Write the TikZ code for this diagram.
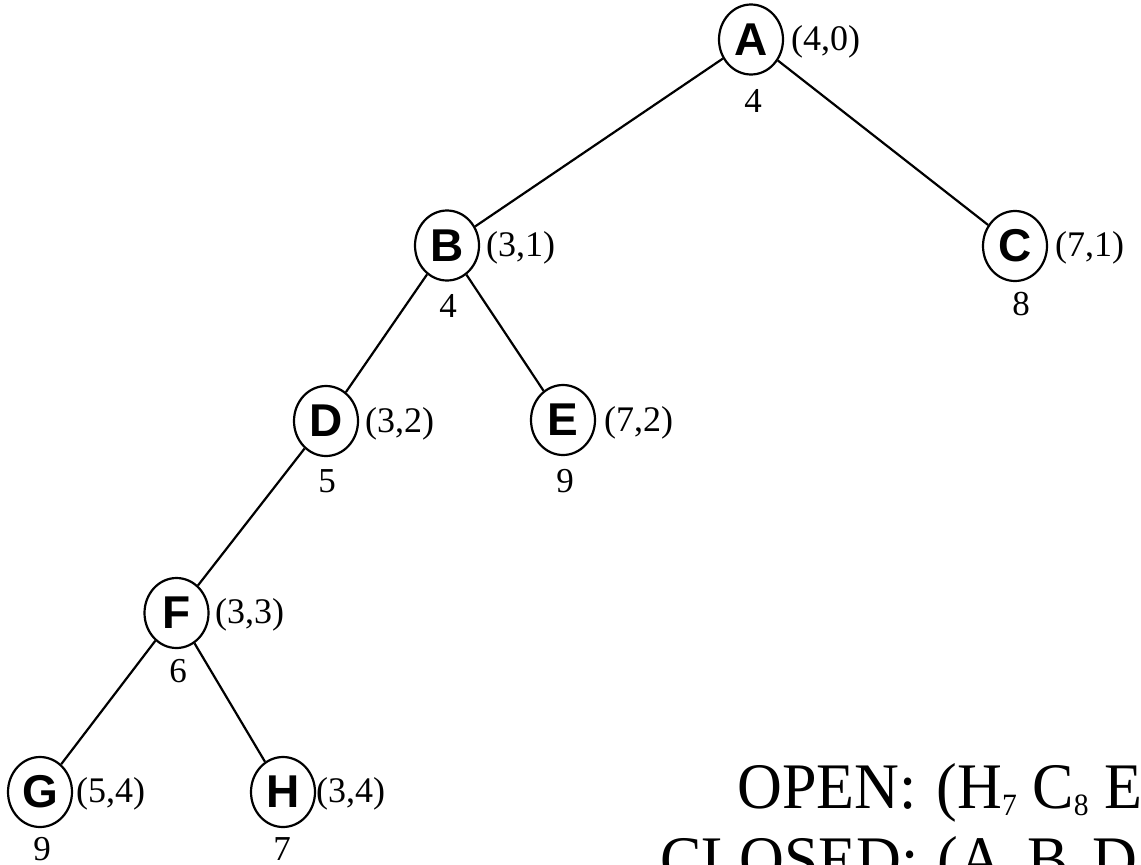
\documentclass[tikz,border=0pt]{standalone}
\usepackage{fontspec}
\setmainfont{Liberation Serif}
\newfontfamily\nodefont{Liberation Sans}
\usetikzlibrary{shapes.geometric}
\newcommand{\lowsub}[1]{\raisebox{-7pt}{\fontsize{31}{31}\selectfont #1}}
\begin{document}
\begin{tikzpicture}[x=1pt,y=-1pt,
  st/.style={ellipse, draw, line width=2.2pt, minimum width=64pt, minimum height=70pt,
    inner sep=0pt, font=\nodefont\bfseries\fontsize{46}{46}\selectfont},
  crd/.style={anchor=west, inner sep=0pt, font=\fontsize{36}{36}\selectfont},
  cost/.style={inner sep=0pt, font=\fontsize{35}{35}\selectfont},
  edgeline/.style={line width=2.2pt},
  big/.style={anchor=base west, inner sep=0pt, font=\fontsize{65}{65}\selectfont}]
\useasboundingbox (0,0) rectangle (1141,865);
\clip (0,0) rectangle (1141,865);
% nodes
\node[st] (A) at (751,39.5) {A};
\node[st] (B) at (447,245.5) {B};
\node[st] (C) at (1015,246) {C};
\node[st] (D) at (326,421) {D};
\node[st] (E) at (563,420) {E};
\node[st] (F) at (176.5,613) {F};
\node[st] (G) at (40,792) {G};
\node[st] (H) at (283,792) {H};
% edges
\draw[edgeline] (A) -- (B);
\draw[edgeline] (A) -- (C);
\draw[edgeline] (B) -- (D);
\draw[edgeline] (B) -- (E);
\draw[edgeline] (D) -- (F);
\draw[edgeline] (F) -- (G);
\draw[edgeline] (F) -- (H);
% coordinate labels
\node[crd] (lA) at (791,42) {(4,0)};
\node[crd] (lB) at (486,248) {(3,1)};
\node[crd] (lC) at (1055,248) {(7,1)};
\node[crd] (lD) at (365,423.5) {(3,2)};
\node[crd] (lE) at (604,423) {(7,2)};
\node[crd] (lF) at (215,615) {(3,3)};
\node[crd] (lG) at (76,794) {(5,4)};
\node[crd] (lH) at (316,794) {(3,4)};
% cost labels
\node[cost] (cA) at (753,101) {4};
\node[cost] (cB) at (448,306) {4};
\node[cost] (cC) at (1021,304) {8};
\node[cost] (cD) at (327,481) {5};
\node[cost] (cE) at (565,481) {9};
\node[cost] (cF) at (178,671) {6};
\node[cost] (cG) at (42,849) {9};
\node[cost] (cH) at (282,849) {7};
% lists
\node[big] (open) at (737,808) {\scalebox{0.955}[1]{OPEN:\hspace*{21pt}(H\lowsub{7} C\lowsub{8} E}};
\node[big] (closed) at (660,881) {\scalebox{0.955}[1]{CLOSED:\hspace*{20pt}(A\hspace*{25pt}B\hspace*{25pt}D}};
\end{tikzpicture}
\end{document}
